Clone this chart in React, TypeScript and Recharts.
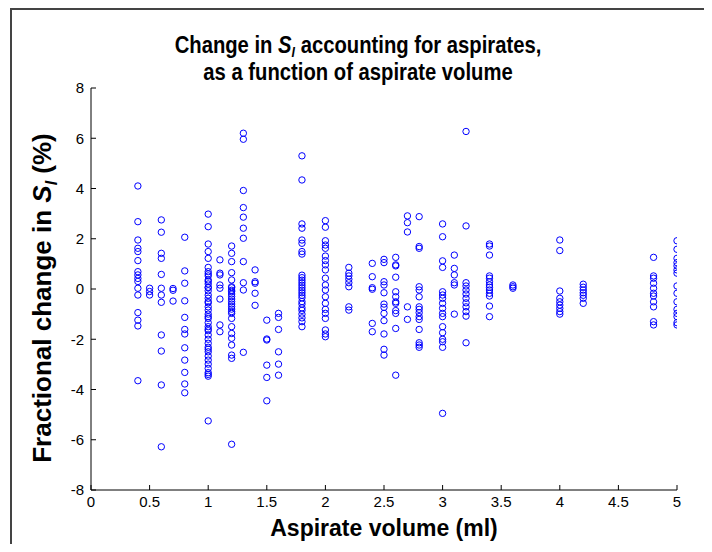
import React from "react";
import { ScatterChart, Scatter, XAxis, YAxis } from "recharts";

// aspirate volumes (ml) that have measurements
const volumes = [
  0.4, 0.5, 0.6, 0.7, 0.8, 1.0, 1.1, 1.2, 1.3, 1.4, 1.5, 1.6, 1.8, 2.0, 2.2,
  2.4, 2.5, 2.6, 2.7, 2.8, 3.0, 3.1, 3.2, 3.4, 3.6, 4.0, 4.2, 4.8, 5.0,
];

// fractional change in S_I (%) for each volume above, same order
const changes: number[][] = [
  [4.1, 2.68, 1.95, 1.62, 1.49, 1.13, 0.69, 0.56, 0.42, 0.3, 0.03, -0.24, -0.94, -1.24, -1.47, -3.65],
  [0.03, -0.1, -0.24],
  [2.75, 2.26, 1.42, 1.22, 0.58, 0.03, -0.24, -0.53, -1.83, -2.47, -3.82, -6.28],
  [0.02, -0.05, -0.48],
  [2.06, 0.72, 0.23, -0.47, -1.13, -1.61, -1.79, -2.34, -2.83, -3.32, -3.78, -4.13],
  [
    2.98, 2.48, 1.79, 1.49, 1.22, 0.86, 0.69, 0.6, 0.52, 0.36, 0.3, 0.2, 0.07, 0.05,
    -0.07, -0.24, -0.37, -0.5, -0.55, -0.71, -0.84, -1.0, -1.1, -1.17, -1.34, -1.5,
    -1.6, -1.66, -1.83, -2.0, -2.16, -2.32, -2.4, -2.5, -2.67, -2.83, -2.99, -3.16,
    -3.33, -3.4, -3.47, -5.25,
  ],
  [1.16, 0.63, 0.56, 0.16, 0.03, -0.4, -1.43, -1.7],
  [
    1.71, 1.42, 1.09, 0.65, 0.36, 0.09, 0.05, -0.05, -0.1, -0.2, -0.3, -0.4, -0.5,
    -0.6, -0.7, -0.8, -0.9, -0.97, -1.17, -1.5, -1.77, -1.96, -2.23, -2.63, -2.76, -6.18,
  ],
  [6.2, 5.96, 3.92, 3.24, 2.86, 2.42, 2.02, 1.09, 0.25, -0.04, -2.52],
  [0.76, 0.29, 0.23, -0.17, -0.65],
  [-1.24, -1.99, -2.03, -3.03, -3.52, -4.45],
  [-0.97, -1.13, -1.61, -2.5, -2.99, -3.43],
  [
    5.3, 4.34, 2.59, 2.42, 1.95, 1.82, 1.49, 1.39, 0.55, 0.45, 0.35, 0.25, 0.15, 0.05,
    -0.05, -0.15, -0.25, -0.35, -0.5, -0.6, -0.75, -0.85, -1.0, -1.15, -1.3, -1.5,
  ],
  [
    2.72, 2.46, 1.92, 1.75, 1.62, 1.31, 1.13, 0.96, 0.76, 0.43, 0.16, -0.04, -0.31,
    -0.57, -0.81, -0.97, -1.17, -1.63, -1.79, -1.9,
  ],
  [0.86, 0.63, 0.52, 0.39, 0.25, 0.09, -0.71, -0.84],
  [1.02, 0.49, 0.05, -0.01, -1.37, -1.7],
  [1.18, 1.05, 0.29, 0.16, -0.15, -0.6, -0.73, -0.97, -1.26, -1.79, -2.4, -2.63],
  [1.26, 0.96, 0.92, 0.47, -0.11, -0.31, -0.51, -0.57, -0.86, -0.97, -1.57, -3.43],
  [2.91, 2.64, 2.27, -0.71, -1.21],
  [2.88, 1.69, 1.62, 0.09, -0.04, -0.31, -0.71, -0.81, -0.94, -1.1, -1.21, -1.61, -2.14, -2.23, -2.32],
  [2.59, 2.08, 1.12, 0.86, -0.11, -0.24, -0.37, -0.57, -0.77, -0.97, -1.1, -1.5, -1.74, -2.0, -2.1, -2.32, -4.95],
  [1.35, 0.82, 0.56, 0.25, 0.16, -1.0],
  [6.27, 2.51, 0.25, 0.12, -0.04, -0.2, -0.37, -0.55, -0.71, -0.9, -1.08, -2.14],
  [1.79, 1.71, 1.35, 0.52, 0.43, 0.29, 0.16, 0.07, -0.04, -0.17, -0.28, -0.68, -1.1],
  [0.16, 0.09, 0.03],
  [1.95, 1.53, -0.08, -0.37, -0.51, -0.64, -0.77, -0.9, -1.0],
  [0.19, 0.07, -0.04, -0.15, -0.25, -0.37, -0.57],
  [1.26, 0.52, 0.43, 0.23, 0.03, -0.17, -0.28, -0.51, -0.71, -1.3, -1.43],
  [1.92, 1.58, 1.22, 1.05, 0.92, 0.76, 0.63, 0.12, -0.17, -0.51, -0.81, -0.97, -1.1, -1.34, -1.43],
];

const xTicks = [0, 0.5, 1, 1.5, 2, 2.5, 3, 3.5, 4, 4.5, 5];
const yTicks = [-8, -6, -4, -2, 0, 2, 4, 6, 8];

const points = volumes.flatMap((v, i) =>
  changes[i].map((c) => ({ volume: v, change: c }))
);

const FONT = "'Liberation Sans', Arial, Helvetica, sans-serif";

function Ring(props: any) {
  const { cx, cy } = props;
  if (cx == null || cy == null) return null;
  return <circle cx={cx} cy={cy} r={3.2} fill="none" stroke="#0000ff" strokeWidth={1} />;
}

export default function App() {
  const tickStyle = { fontSize: 15, fill: "#000", fontFamily: FONT };
  const titleLine: React.CSSProperties = {
    position: "absolute",
    left: 358,
    transform: "translateX(-50%) scaleX(0.88)",
    fontSize: 23,
    fontWeight: "bold",
    lineHeight: "24px",
    height: 24,
    whiteSpace: "nowrap",
    color: "#000",
  };
  return (
    <div
      style={{
        position: "relative",
        width: 712,
        height: 552,
        margin: -8,
        overflow: "hidden",
        background: "#fff",
        fontFamily: FONT,
      }}
    >
      <div
        style={{
          position: "absolute",
          left: 10,
          top: 8,
          width: 697,
          height: 600,
          border: "2px solid #444",
          boxSizing: "border-box",
        }}
      />
      <ScatterChart
        width={712}
        height={552}
        margin={{ top: 88, right: 35, bottom: 0, left: 0 }}
        style={{ position: "absolute", left: 0, top: 0 }}
      >
        <XAxis
          type="number"
          dataKey="volume"
          domain={[0, 5]}
          ticks={xTicks}
          height={62}
          tickSize={-5}
          tickMargin={11}
          tick={tickStyle}
          stroke="#000"
          axisLine={{ stroke: "#000" }}
          tickLine={{ stroke: "#000" }}
          allowDataOverflow
        />
        <YAxis
          type="number"
          dataKey="change"
          domain={[-8, 8]}
          ticks={yTicks}
          width={91}
          tickSize={-5}
          tickMargin={12}
          tick={tickStyle}
          stroke="#000"
          axisLine={{ stroke: "#000" }}
          tickLine={{ stroke: "#000" }}
          allowDataOverflow
        />
        <Scatter data={points} shape={Ring} isAnimationActive={false} />
      </ScatterChart>
      <div style={{ ...titleLine, top: 33 }}>
        Change in <i>S</i>
        <i
          style={{
            fontSize: 14,
            lineHeight: "14px",
            display: "inline-block",
            verticalAlign: "-4px",
          }}
        >
          I
        </i>{" "}
        accounting for aspirates,
      </div>
      <div style={{ ...titleLine, top: 60 }}>as a function of aspirate volume</div>
      <div
        style={{
          position: "absolute",
          left: 384,
          top: 515,
          transform: "translateX(-50%)",
          fontSize: 23,
          fontWeight: "bold",
          whiteSpace: "nowrap",
          color: "#000",
        }}
      >
        Aspirate volume (ml)
      </div>
      <div
        style={{
          position: "absolute",
          left: 42,
          top: 298,
          transform: "translate(-50%, -50%) rotate(-90deg)",
          fontSize: 26,
          fontWeight: "bold",
          whiteSpace: "nowrap",
          color: "#000",
        }}
      >
        Fractional change in <i>S</i>
        <sub style={{ fontSize: 16, lineHeight: 0 }}>
          <i>I</i>
        </sub>{" "}
        (%)
      </div>
    </div>
  );
}
